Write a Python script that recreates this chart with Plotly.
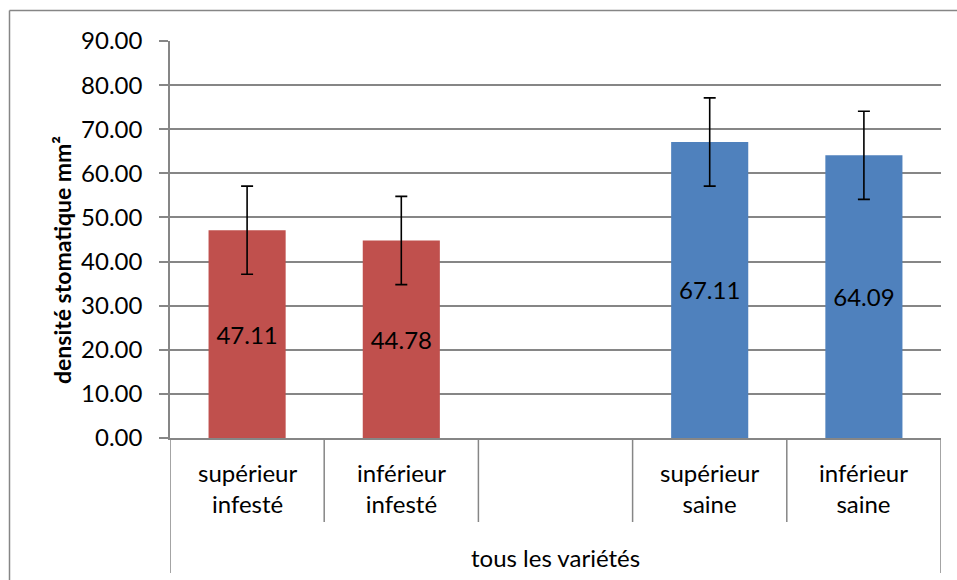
import plotly.graph_objects as go

# Data
categories = ["supérieur<br>infesté", "inférieur<br>infesté", "", "supérieur<br>saine", "inférieur<br>saine"]
bar_slots = [0, 1, 3, 4]
bar_values = [47.11, 44.78, 67.11, 64.09]
bar_errors = [10, 10, 10, 10]
bar_labels = ["47.11", "44.78", "67.11", "64.09"]
bar_colors = ["#C0504D", "#C0504D", "#4F81BD", "#4F81BD"]
group_label = "tous les variétés"
y_title = "densité stomatique mm²"
y_ticks = [0, 10, 20, 30, 40, 50, 60, 70, 80, 90]

FONT = "Lato"
GRAY = "#868686"
FS = 24

W, H = 957, 580
L, R, T, B = 170, 16, 41, 142
ph = H - T - B
pw = W - L - R

def py(pix):
    return 1 - (pix - T) / ph

def px(pix):
    return (pix - L) / pw

fig = go.Figure()
fig.add_trace(go.Bar(
    x=bar_slots, y=bar_values, width=0.5,
    marker=dict(color=bar_colors, line=dict(width=0)),
    error_y=dict(type="data", array=bar_errors, visible=True, color="black", thickness=1.6, width=6),
    text=bar_labels, textposition="inside", insidetextanchor="middle", textangle=0,
    textfont=dict(family=FONT, size=FS, color="black"),
    constraintext="none",
    hoverinfo="skip",
))

shapes = []
# category box dividers
for i in range(len(categories) + 1):
    xv = i - 0.5
    outer = (i == 0 or i == len(categories))
    shapes.append(dict(type="line", xref="x", yref="paper", x0=xv, x1=xv,
                       y0=0, y1=py(573) if outer else py(522),
                       line=dict(color=GRAY, width=1.5)))
# outer chart border (left + top, cropped)
shapes.append(dict(type="line", xref="paper", yref="paper", x0=px(9.5), x1=px(9.5),
                   y0=py(620), y1=py(10.5), line=dict(color=GRAY, width=1.5)))
shapes.append(dict(type="line", xref="paper", yref="paper", x0=px(9.5), x1=px(990),
                   y0=py(10.5), y1=py(10.5), line=dict(color=GRAY, width=1.5)))

annotations = []
for i, c in enumerate(categories):
    if c:
        annotations.append(dict(x=i, y=py(488), xref="x", yref="paper", text=c, showarrow=False,
                                font=dict(family=FONT, size=FS, color="black"), align="center",
                                xanchor="center", yanchor="middle"))
annotations.append(dict(x=2, y=py(557), xref="x", yref="paper", text=group_label, showarrow=False,
                        font=dict(family=FONT, size=FS, color="black"), xanchor="center", yanchor="middle"))
annotations.append(dict(x=px(62), y=py(260), xref="paper", yref="paper", text="<b>" + y_title + "</b>",
                        showarrow=False, textangle=-90, font=dict(family=FONT, size=23, color="black"),
                        xanchor="center", yanchor="middle"))

fig.update_layout(
    width=W, height=H,
    margin=dict(l=L, r=R, t=T, b=B, pad=0),
    paper_bgcolor="white", plot_bgcolor="white",
    showlegend=False,
    xaxis=dict(range=[-0.5, 4.5], showticklabels=False, showgrid=False, zeroline=False,
               showline=True, linecolor=GRAY, linewidth=1.5, ticks=""),
    yaxis=dict(range=[0, 90], tickvals=y_ticks, tickformat=".2f", showgrid=True, gridcolor=GRAY,
               gridwidth=1.5, zeroline=False, showline=True, linecolor=GRAY, linewidth=1.5,
               ticks="outside", ticklen=9, tickcolor=GRAY, tickwidth=1.5,
               ticklabelstandoff=12,
               tickfont=dict(family=FONT, size=FS, color="black")),
    shapes=shapes, annotations=annotations,
    bargap=0.5,
)

fig.write_html("out.html", config={"displayModeBar": False},
               post_script="document.body.style.margin='0';document.body.style.padding='0';document.body.style.overflow='hidden';")
